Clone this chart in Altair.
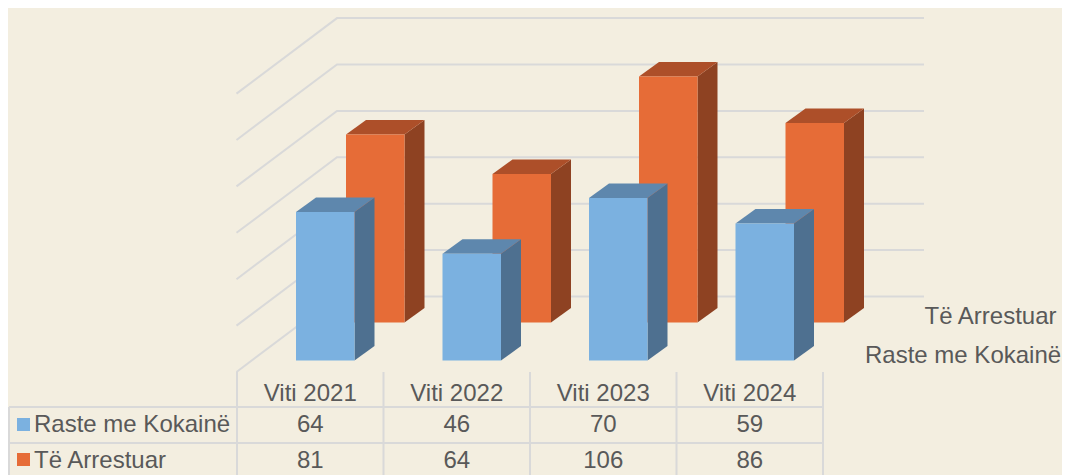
import altair as alt
import pandas as pd

years = ["Viti 2021", "Viti 2022", "Viti 2023", "Viti 2024"]
kokaine = [64, 46, 70, 59]
arrestuar = [81, 64, 106, 86]
name_k = "Raste me Kokainë"
name_a = "Të Arrestuar"
ticks = [0, 20, 40, 60, 80, 100, 120]

BG = "#f3eee0"; GRID = "#d9d9d9"; TXT = "#595959"
C_K = ("#7bb1e0", "#4e7090", "#5e87ad")
C_A = ("#e66c37", "#8e4222", "#ad4f29")
W, H = 1054, 467
PX = 2.32          # page pixels per unit of value
BASE = 360.5       # page y of value 0 on the front row
def uy(p):         # page y -> y-scale units
    return (BASE - p) / PX
X = alt.X("x:Q", scale=alt.Scale(domain=[8, 8 + W], nice=False, zero=False), axis=None)
Y = alt.Y("y:Q", scale=alt.Scale(domain=[uy(8 + H), uy(8)], nice=False, zero=False), axis=None)
Y2 = alt.Y2("y2:Q")
X2 = alt.X2("x2:Q")

SLOT = 146.5; BW = 58.5; DX = 20; DY = 14.5
ROW = 38.0         # depth of the back row in pixels

def faces(vals, x0, row_px):
    base = uy(BASE - row_px)
    d = DY / PX
    fr, side, top = [], [], []
    for i, v in enumerate(vals):
        L = x0 + i * SLOT; R = L + BW; T = base + v
        fr.append(dict(x=L, x2=R, y=base, y2=T))
        side += [dict(b=i, x=R, y=T, y2=base), dict(b=i, x=R + DX, y=T + d, y2=base + d)]
        top += [dict(b=i, x=L, y=T, y2=T), dict(b=i, x=L + DX, y=T + d, y2=T),
                dict(b=i, x=R, y=T + d, y2=T), dict(b=i, x=R + DX, y=T + d, y2=T + d)]
    return pd.DataFrame(fr), pd.DataFrame(side), pd.DataFrame(top)

def bars(vals, x0, row_px, cols):
    fr, side, top = faces(vals, x0, row_px)
    a = alt.Chart(side).mark_area(color=cols[1], orient="vertical").encode(x=X, y=Y, y2=Y2, detail="b:N")
    b = alt.Chart(top).mark_area(color=cols[2], orient="vertical").encode(x=X, y=Y, y2=Y2, detail="b:N")
    c = alt.Chart(fr).mark_rect(color=cols[0]).encode(x=X, x2=X2, y=Y, y2=Y2)
    return [a, b, c]

# gridlines: back wall + left wall
back_y0 = 296.5
gx = []
for j, t in enumerate(ticks):
    yb = uy(back_y0) + t
    gx.append(dict(g=j, x=337, y=yb))
    gx.append(dict(g=j, x=924, y=yb))
    gx.append(dict(g=j, x=236.5, y=yb - 75.5 / PX))
grid = alt.Chart(pd.DataFrame(gx)).mark_line(color=GRID, strokeWidth=2).encode(x=X, y=Y, detail="g:N")

# table rules
cols_x = [237, 383.5, 530, 676.5, 823]
hr = [dict(x=9, x2=823, y=uy(p), y2=uy(p)) for p in (407, 443)]
vr = [dict(x=c, x2=c, y=uy(372), y2=uy(480)) for c in cols_x] + [dict(x=9, x2=9, y=uy(407), y2=uy(480))]
table = alt.Chart(pd.DataFrame(hr + vr)).mark_rule(color=GRID, strokeWidth=2, clip=True).encode(x=X, x2=X2, y=Y, y2=Y2)

# texts
cent = [(cols_x[i] + cols_x[i + 1]) / 2 for i in range(4)]
ctext = []
for i in range(4):
    ctext.append(dict(x=cent[i], y=uy(401), t=years[i]))
    ctext.append(dict(x=cent[i], y=uy(432), t=str(kokaine[i])))
    ctext.append(dict(x=cent[i], y=uy(468), t=str(arrestuar[i])))
ltext = [dict(x=34, y=uy(432), t=name_k), dict(x=34, y=uy(468), t=name_a),
         dict(x=924.5, y=uy(324), t=name_a), dict(x=865, y=uy(363), t=name_k)]
font = dict(font="Liberation Sans", fontSize=24, color=TXT, baseline="alphabetic")
t1 = alt.Chart(pd.DataFrame(ctext)).mark_text(align="center", **font).encode(x=X, y=Y, text="t:N")
t2 = alt.Chart(pd.DataFrame(ltext)).mark_text(align="left", **font).encode(x=X, y=Y, text="t:N")

sw = pd.DataFrame([dict(x=17, x2=30, y=uy(418), y2=uy(431), c=C_K[0]),
                   dict(x=17, x2=30, y=uy(453), y2=uy(466), c=C_A[0])])
swatch = alt.Chart(sw).mark_rect().encode(x=X, x2=X2, y=Y, y2=Y2, color=alt.Color("c:N", scale=None))

layers = [grid] + bars(arrestuar, 346, ROW, C_A) + bars(kokaine, 296, 0, C_K) + [table, swatch, t1, t2]
chart = alt.layer(*layers).properties(
    width=W, height=H, background=BG, padding=0, autosize=alt.AutoSizeParams(type="none")
).configure_view(stroke=None)

chart.save("out.html", embed_options={"renderer": "svg", "actions": False})
